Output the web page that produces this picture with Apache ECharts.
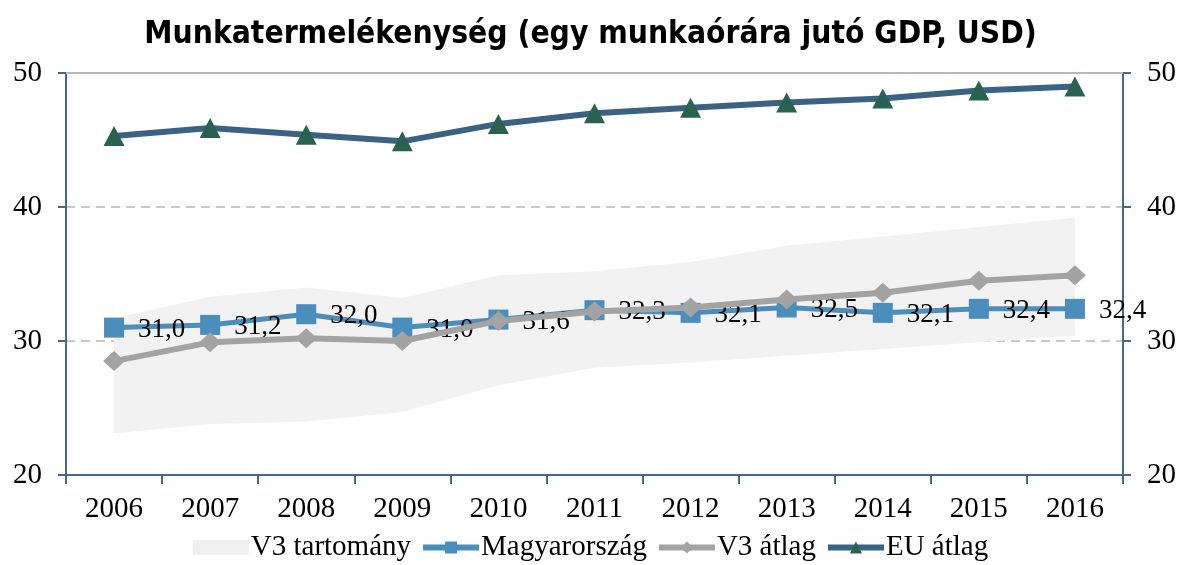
<!DOCTYPE html>
<html>
<head>
<meta charset="utf-8">
<script src="https://cdn.jsdelivr.net/npm/echarts@6/dist/echarts.min.js"></script>
<style>
  html, body { margin: 0; padding: 0; background: #fff; }
  #chart { width: 1181px; height: 565px; }
</style>
</head>
<body>
<div id="chart"></div>
<script>
// adatok
const years = ['2006', '2007', '2008', '2009', '2010', '2011', '2012', '2013', '2014', '2015', '2016'];
const huValues = [31.0, 31.2, 32.0, 31.0, 31.6, 32.3, 32.1, 32.5, 32.1, 32.4, 32.4];
const v3Avg = [28.5, 29.9, 30.2, 30.0, 31.5, 32.2, 32.5, 33.1, 33.6, 34.5, 34.9];
const euAvg = [45.3, 45.9, 45.4, 44.9, 46.2, 47.0, 47.4, 47.8, 48.1, 48.7, 49.0];
const v3Low = [23.1, 23.8, 24.0, 24.7, 26.7, 28.0, 28.4, 28.9, 29.4, 29.9, 30.4];
const v3High = [31.7, 33.3, 34.0, 33.2, 34.9, 35.2, 35.9, 37.1, 37.8, 38.5, 39.2];
const yTicks = [20, 30, 40, 50];

const serif = '"Liberation Serif", "DejaVu Serif", serif';
const axisColor = '#46698a';

const chart = echarts.init(document.getElementById('chart'));

const yAxisBase = {
  type: 'value',
  min: yTicks[0],
  max: yTicks[yTicks.length - 1],
  interval: 10,
  axisLine: { show: true, lineStyle: { color: axisColor, width: 2 } },
  axisTick: { show: true, length: 8, lineStyle: { color: axisColor, width: 2 } },
  axisLabel: { color: '#000', fontFamily: serif, fontSize: 29, margin: 24 },
};

const option = {
  animation: false,
  title: {
    text: 'Munkatermelékenység (egy munkaórára jutó GDP, USD)',
    left: 'center',
    top: 14,
    textStyle: {
      fontFamily: '"DejaVu Sans Condensed", sans-serif',
      fontWeight: 'bold',
      fontSize: 31.5,
      color: '#000',
    },
  },
  legend: {
    bottom: -2,
    left: 'center',
    itemGap: 9,
    itemWidth: 56,
    itemHeight: 15,
    lineStyle: { width: 6 },
    textStyle: { fontFamily: serif, fontSize: 29, color: '#000', padding: [0, 0, 0, -3] },
    data: [
      { name: 'V3 tartomány', icon: 'rect', itemStyle: { color: '#f0f0f0' } },
      { name: 'Magyarország' },
      { name: 'V3 átlag' },
      { name: 'EU átlag' },
    ],
  },
  grid: { left: 66, right: 58, top: 73, bottom: 90, containLabel: false },
  xAxis: [
    {
      type: 'category',
      data: years,
      boundaryGap: true,
      axisLine: { lineStyle: { color: axisColor, width: 2 } },
      axisTick: { show: true, length: 9, lineStyle: { color: axisColor, width: 2 } },
      axisLabel: { color: '#000', fontFamily: serif, fontSize: 29, margin: 20 },
    },
    {
      // felső, folytonos szürke vonal az 50-es szinten
      type: 'category',
      position: 'top',
      data: years,
      axisLine: { lineStyle: { color: '#b8b8b8', width: 2 } },
      axisTick: { show: false },
      axisLabel: { show: false },
    },
  ],
  yAxis: [
    Object.assign({}, yAxisBase, {
      position: 'left',
      splitLine: { show: true, lineStyle: { color: '#b8b8b8', type: [9, 6], width: 1.5 } },
    }),
    Object.assign({}, yAxisBase, {
      position: 'right',
      splitLine: { show: false },
    }),
  ],
  series: [
    {
      name: 'v3low',
      type: 'line',
      stack: 'v3',
      data: v3Low,
      symbol: 'none',
      lineStyle: { opacity: 0 },
      silent: true,
      z: 1,
    },
    {
      name: 'V3 tartomány',
      type: 'line',
      stack: 'v3',
      data: v3High.map((h, i) => +(h - v3Low[i]).toFixed(2)),
      symbol: 'none',
      lineStyle: { opacity: 0 },
      itemStyle: { color: '#f0f0f0' },
      areaStyle: { color: '#f2f2f2', opacity: 1 },
      silent: true,
      z: 1,
    },
    {
      name: 'Magyarország',
      type: 'line',
      data: huValues,
      symbol: 'rect',
      symbolSize: 20,
      lineStyle: { color: '#4b8dbb', width: 5 },
      itemStyle: { color: '#4b8dbb' },
      label: {
        show: true,
        position: 'right',
        distance: 14,
        offset: [0, 2],
        fontFamily: serif,
        fontSize: 27,
        color: '#000',
        formatter: (p) => p.value.toFixed(1).replace('.', ','),
      },
      z: 3,
    },
    {
      name: 'V3 átlag',
      type: 'line',
      data: v3Avg,
      symbol: 'diamond',
      symbolSize: [22, 20],
      lineStyle: { color: '#a3a3a3', width: 6 },
      itemStyle: { color: '#a3a3a3' },
      z: 4,
    },
    {
      name: 'EU átlag',
      type: 'line',
      data: euAvg,
      symbol: 'triangle',
      symbolSize: [21, 20],
      lineStyle: { color: '#3b6283', width: 6 },
      itemStyle: { color: '#2a6252' },
      z: 5,
    },
  ],
};

chart.setOption(option);
</script>
</body>
</html>
